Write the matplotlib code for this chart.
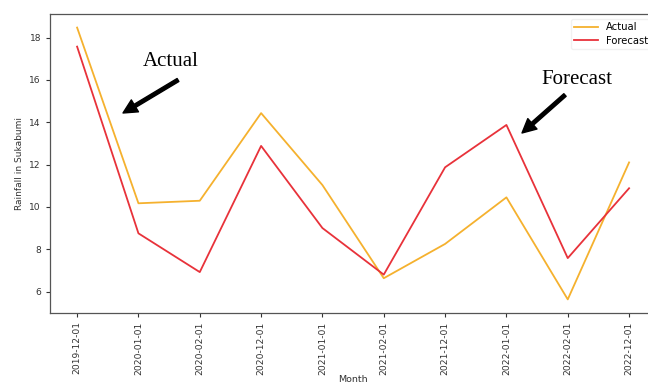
import matplotlib.pyplot as plt

# Monthly rainfall, actual vs forecast
months = ['2019-12-01', '2020-01-01', '2020-02-01', '2020-12-01', '2021-01-01',
          '2021-02-01', '2021-12-01', '2022-01-01', '2022-02-01', '2022-12-01']
actual = [18.47, 10.17, 10.29, 14.43, 11.03, 6.63, 8.25, 10.45, 5.63, 12.1]
forecast = [17.57, 8.75, 6.92, 12.88, 9.0, 6.8, 11.87, 13.87, 7.58, 10.88]

fig = plt.figure(figsize=(6.48, 3.83), dpi=100)
ax = fig.add_axes([0.0764, 0.1828, 0.937, 0.7807])

ax.plot(months, actual, color='#f5b12e', lw=1.3, label='Actual')
ax.plot(months, forecast, color='#e8323a', lw=1.3, label='Forecast')

ax.set_xlabel('Month', fontsize=6.8, color='#333333', labelpad=0)
ax.set_ylabel('Rainfall in Sukabumi', fontsize=6.5, color='#333333')
ax.tick_params(axis='x', labelrotation=90)
ax.tick_params(labelsize=6.6, length=2.6, colors='#333333')
for sp in ax.spines.values():
    sp.set_color('#555555')
    sp.set_linewidth(0.9)

leg = ax.legend(loc='upper right', fontsize=7.2, handlelength=2.4,
                labelspacing=0.35, borderpad=0.35)
leg.get_frame().set_edgecolor('#eeeeee')

# Arrow callouts pointing at the two lines
serif = 'Liberation Serif'
fig.text(171 / 648, 1 - 62 / 383, 'Actual', family=serif, fontsize=15,
         ha='center', va='center')
ax.annotate('', xy=(123 / 648, 1 - 113 / 383), xytext=(178 / 648, 1 - 80 / 383),
            xycoords='figure fraction', textcoords='figure fraction',
            arrowprops=dict(facecolor='black', edgecolor='black', width=2.5,
                            headwidth=10, headlength=10, shrink=0))
fig.text(577 / 648, 1 - 80 / 383, 'Forecast', family=serif, fontsize=15,
         ha='center', va='center')
ax.annotate('', xy=(522 / 648, 1 - 133 / 383), xytext=(565 / 648, 1 - 95 / 383),
            xycoords='figure fraction', textcoords='figure fraction',
            arrowprops=dict(facecolor='black', edgecolor='black', width=2.5,
                            headwidth=10, headlength=10, shrink=0))

fig.savefig('out.png', dpi=100)
